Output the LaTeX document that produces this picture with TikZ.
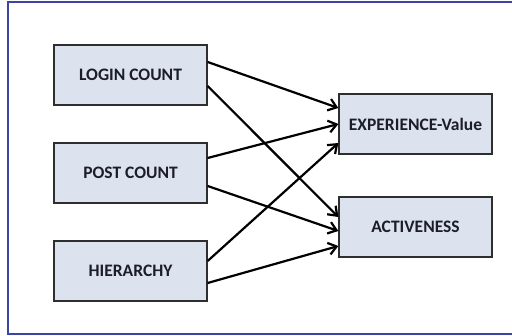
\documentclass[tikz,border=0pt]{standalone}
\usepackage{fontspec}
\setmainfont{Carlito}
\usetikzlibrary{arrows.meta}
\definecolor{framecol}{HTML}{3A46A0}
\definecolor{boxfill}{HTML}{DCE3EE}
\definecolor{boxline}{HTML}{2E2E2E}
\definecolor{txt}{HTML}{1C1C2A}
\tikzset{
  varbox/.style={draw=boxline, line width=1.3pt, fill=boxfill,
    minimum width=153pt, minimum height=60pt, inner sep=0pt,
    font=\fontsize{17.5}{20}\selectfont\bfseries, text=txt},
  link/.style={draw=black, line width=2.2pt,
    -{Straight Barb[length=8pt,width=12pt,line width=2.2pt]}}
}
\begin{document}
\begin{tikzpicture}[x=1pt,y=-1pt]
  \clip (0,0) rectangle (512,336);
  \useasboundingbox (0,0) rectangle (512,336);
  \fill[white] (0,0) rectangle (512,336);
  % outer frame
  \draw[framecol, line width=2pt] (8,2.5) rectangle (520,334.5);

  % input variables
  \node[varbox] (login) at (130.5,75)  {LOGIN COUNT};
  \node[varbox] (post)  at (130.5,173) {POST COUNT};
  \node[varbox] (hier)  at (130.5,271) {HIERARCHY};
  % output variables
  \node[varbox] (exp)   at (415.5,124) {EXPERIENCE-Value};
  \node[varbox] (act)   at (415.5,227) {ACTIVENESS};

  % influences
  \draw[link] ([yshift=13pt]login.east) -- ([yshift=16pt]exp.west);
  \draw[link] ([yshift=-11pt]login.east) -- ([yshift=10pt]act.west);
  \draw[link] ([yshift=15pt]post.east) -- (exp.west);
  \draw[link] ([yshift=-13pt]post.east) -- ([yshift=-4pt]act.west);
  \draw[link] ([yshift=10pt]hier.east) -- ([yshift=-19pt]exp.west);
  \draw[link] ([yshift=-12pt]hier.east) -- ([yshift=-19pt]act.west);
\end{tikzpicture}
\end{document}
